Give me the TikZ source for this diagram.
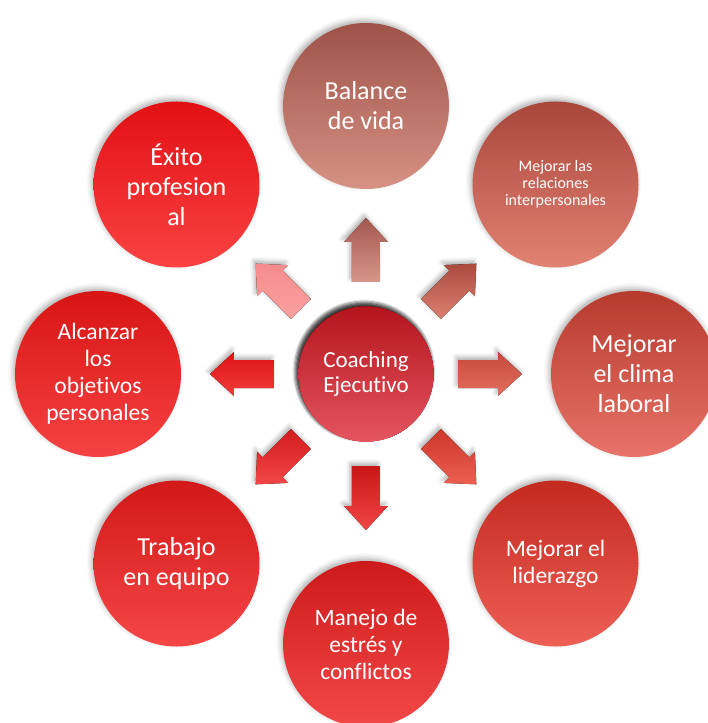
\documentclass[tikz,border=0pt]{standalone}
\usepackage{fontspec}
\setmainfont{Carlito}[Ligatures=NoCommon]
\usetikzlibrary{calc,shadows.blur}
\definecolor{vidatop}{RGB}{158,82,72}
\definecolor{vidabot}{RGB}{214,146,132}
\definecolor{relatop}{RGB}{170,70,58}
\definecolor{relabot}{RGB}{225,130,115}
\definecolor{climatop}{RGB}{182,58,46}
\definecolor{climabot}{RGB}{232,115,104}
\definecolor{lidertop}{RGB}{195,42,32}
\definecolor{liderbot}{RGB}{238,95,85}
\definecolor{estrestop}{RGB}{205,26,26}
\definecolor{estresbot}{RGB}{243,72,72}
\definecolor{equipotop}{RGB}{210,24,24}
\definecolor{equipobot}{RGB}{245,70,70}
\definecolor{metastop}{RGB}{216,20,20}
\definecolor{metasbot}{RGB}{246,66,66}
\definecolor{exitotop}{RGB}{226,16,20}
\definecolor{exitobot}{RGB}{250,66,66}
\definecolor{coachtop}{RGB}{180,20,28}
\definecolor{coachbot}{RGB}{228,86,96}
\definecolor{arrupA}{RGB}{165,88,78}
\definecolor{arrupB}{RGB}{215,150,138}
\definecolor{arrneA}{RGB}{170,75,62}
\definecolor{arrneB}{RGB}{220,128,112}
\definecolor{arreA}{RGB}{195,75,60}
\definecolor{arreB}{RGB}{228,110,95}
\definecolor{arrseA}{RGB}{205,55,42}
\definecolor{arrseB}{RGB}{235,95,80}
\definecolor{arrsA}{RGB}{200,22,22}
\definecolor{arrsB}{RGB}{242,70,70}
\definecolor{arrswA}{RGB}{210,28,28}
\definecolor{arrswB}{RGB}{242,70,70}
\definecolor{arrwA}{RGB}{222,20,20}
\definecolor{arrwB}{RGB}{240,60,60}
\definecolor{arrnwA}{RGB}{246,140,140}
\definecolor{arrnwB}{RGB}{250,160,160}
\tikzset{
  disc/.style={circle,inner sep=0pt,align=center,text=white},
  bubble/.style={disc,minimum size=166pt,
    blur shadow={shadow xshift=-2pt,shadow yshift=3pt,shadow blur radius=5pt,shadow opacity=30}},
  hub/.style={disc,minimum size=135pt,
    blur shadow={shadow xshift=-2pt,shadow yshift=3pt,shadow blur radius=4pt,shadow opacity=20}},
  arrowshadow/.style={blur shadow={shadow xshift=-2pt,shadow yshift=3pt,shadow blur radius=4pt,shadow opacity=30}},
  bigtext/.style={font=\fontsize{26}{30}\selectfont},
  midtext/.style={font=\fontsize{23.5}{27}\selectfont},
  smalltext/.style={font=\fontsize{16}{17}\selectfont},
}
% block arrow pointing out from the hub: angle, top colour, bottom colour
\newcommand{\blockarrow}[3]{%
  \fill[arrowshadow,top color=#2,bottom color=#3]
    ($(#1:92)+(#1-90:14)$) -- ($(#1:132)+(#1-90:14)$) -- ($(#1:132)+(#1-90:22)$)
    -- (#1:156) -- ($(#1:132)+(#1+90:22)$) -- ($(#1:132)+(#1+90:14)$)
    -- ($(#1:92)+(#1+90:14)$) -- cycle;
}

\begin{document}
\begin{tikzpicture}[x=1pt,y=1pt]
  \useasboundingbox (-366,-349) rectangle (341,374);
  \foreach \ang/\ctop/\cbot in {90/arrupA/arrupB,45/arrneA/arrneB,0/arreA/arreB,
      -45/arrseA/arrseB,-90/arrsA/arrsB,-135/arrswA/arrswB,180/arrwA/arrwB,135/arrnwA/arrnwB}
    \blockarrow{\ang}{\ctop}{\cbot}
  \node[hub,top color=coachtop,bottom color=coachbot,font=\fontsize{23}{25}\selectfont]
    (coach) at (0,0) {Coaching\\Ejecutivo};
  \node[bubble,bigtext,top color=vidatop,bottom color=vidabot] (vida) at (90:268) {Balance\\de vida};
  \node[bubble,smalltext,top color=relatop,bottom color=relabot] (relaciones) at (45:268)
    {Mejorar las\\relaciones\\interpersonales};
  \node[bubble,bigtext,top color=climatop,bottom color=climabot] (clima) at (0:268)
    {Mejorar\\el clima\\laboral};
  \node[bubble,midtext,top color=lidertop,bottom color=liderbot] (liderazgo) at (-45:268)
    {Mejorar el\\liderazgo};
  \node[bubble,midtext,top color=estrestop,bottom color=estresbot] (estres) at (-90:270)
    {Manejo de\\estrés y\\conflictos};
  \node[bubble,bigtext,top color=equipotop,bottom color=equipobot] (equipo) at (-135:268)
    {Trabajo\\en equipo};
  \node[bubble,midtext,top color=metastop,bottom color=metasbot] (objetivos) at (180:268)
    {Alcanzar\\los\\objetivos\\personales};
  \node[bubble,bigtext,top color=exitotop,bottom color=exitobot] (exito) at (135:268)
    {Éxito\\profesion\\al};
\end{tikzpicture}
\end{document}
